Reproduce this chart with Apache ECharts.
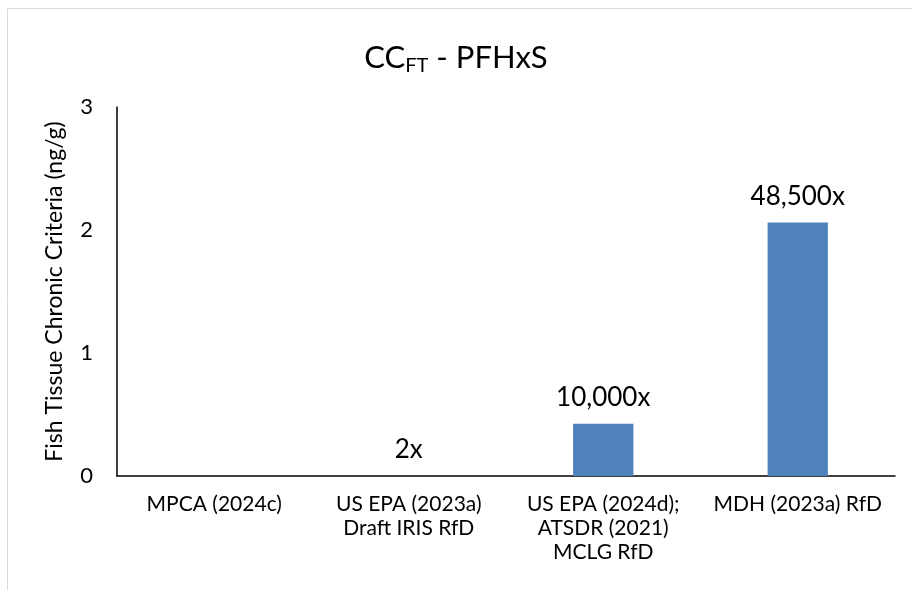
<!DOCTYPE html>
<html>
<head>
<meta charset="utf-8">
<script src="https://cdn.jsdelivr.net/npm/echarts@6/dist/echarts.min.js"></script>
<style>
  html, body { margin: 0; padding: 0; background: #fff; }
  #chart { width: 912px; height: 590px; }
</style>
</head>
<body>
<div id="chart"></div>
<script>
// Fish tissue chronic criteria (ng/g) for PFHxS by source
const categories = [
  'MPCA (2024c)',
  'US EPA (2023a)\nDraft IRIS RfD',
  'US EPA (2024d);\nATSDR (2021)\nMCLG RfD',
  'MDH (2023a) RfD'
];
const criteria = [0.0000425, 0.000085, 0.425, 2.06];
// Multiple of the MPCA criterion, shown above each bar
const multipliers = ['', '2x', '10,000x', '48,500x'];
const yTicks = [0, 1, 2, 3];

const FONT = 'Lato';
const chart = echarts.init(document.getElementById('chart'), null, { renderer: 'canvas' });

chart.setOption({
  backgroundColor: '#ffffff',
  animation: false,
  textStyle: { fontFamily: FONT, color: '#000' },
  graphic: [{
    type: 'rect',
    shape: { x: 7.5, y: 8.5, width: 1000, height: 1000 },
    style: { fill: 'none', stroke: '#d9d9d9', lineWidth: 1 },
    silent: true
  }],
  title: {
    text: 'CC{sub|FT} - PFHxS',
    left: 'center',
    top: 34,
    textStyle: {
      fontFamily: FONT,
      fontSize: 31,
      fontWeight: 'normal',
      color: '#000',
      rich: {
        sub: { fontFamily: FONT, fontSize: 20, verticalAlign: 'bottom', padding: [17, 0, 0, 0], color: '#000' }
      }
    }
  },
  grid: { left: 117, right: 17, top: 107, bottom: 114, containLabel: false },
  xAxis: {
    type: 'category',
    data: categories,
    axisLine: { show: true, lineStyle: { color: '#000', width: 1.5 } },
    axisTick: { show: false },
    axisLabel: { fontFamily: FONT, fontSize: 21, color: '#000', margin: 16, lineHeight: 24, interval: 0 }
  },
  yAxis: {
    type: 'value',
    min: 0,
    max: yTicks[yTicks.length - 1],
    interval: 1,
    name: 'Fish Tissue Chronic Criteria (ng/g)',
    nameLocation: 'middle',
    nameGap: 51,
    nameTextStyle: { fontFamily: FONT, fontSize: 23, color: '#000' },
    axisLine: { show: true, lineStyle: { color: '#000', width: 1.5 } },
    axisTick: { show: false },
    splitLine: { show: false },
    axisLabel: { fontFamily: FONT, fontSize: 22, color: '#000', margin: 24 }
  },
  series: [{
    type: 'bar',
    data: criteria,
    barWidth: '31%',
    itemStyle: { color: '#4f81bd' },
    label: {
      show: true,
      position: 'top',
      distance: 13,
      fontFamily: FONT,
      fontSize: 26,
      color: '#000',
      formatter: p => multipliers[p.dataIndex]
    }
  }]
});
</script>
</body>
</html>
